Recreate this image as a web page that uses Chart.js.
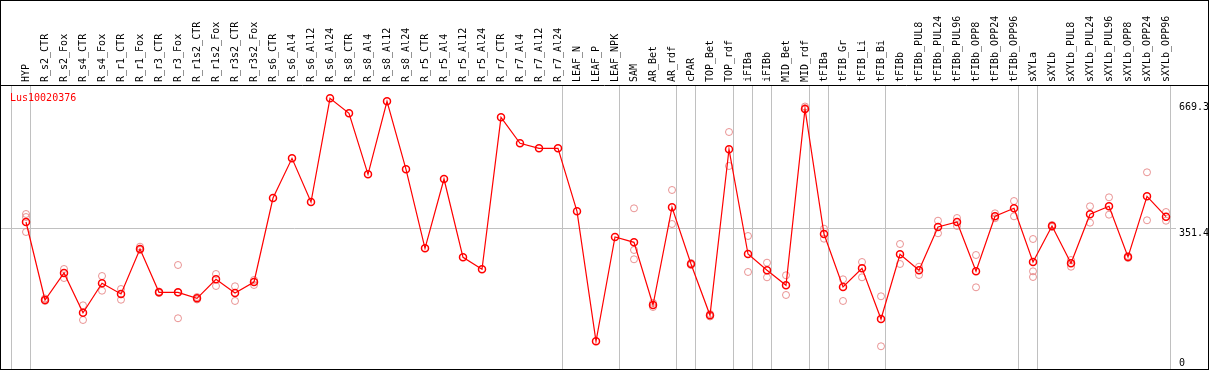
<!DOCTYPE html>
<html>
<head>
<meta charset="utf-8">
<script src="https://cdn.jsdelivr.net/npm/chart.js@4"></script>
<style>
  html, body { margin: 0; padding: 0; background: #fff; }
  #wrap { width: 1207px; height: 368px; border: 1px solid #000; }
</style>
</head>
<body>
<div id="wrap"><canvas id="chart" width="1207" height="368"></canvas></div>
<script>
/* expression profile – one gene across tissue samples */

const geneName = 'Lus10020376';

const categories = [
  'HYP','R_s2_CTR','R_s2_Fox','R_s4_CTR','R_s4_Fox','R_r1_CTR','R_r1_Fox','R_r3_CTR','R_r3_Fox',
  'R_r1s2_CTR','R_r1s2_Fox','R_r3s2_CTR','R_r3s2_Fox','R_s6_CTR','R_s6_Al4','R_s6_Al12','R_s6_Al24',
  'R_s8_CTR','R_s8_Al4','R_s8_Al12','R_s8_Al24','R_r5_CTR','R_r5_Al4','R_r5_Al12','R_r5_Al24',
  'R_r7_CTR','R_r7_Al4','R_r7_Al12','R_r7_Al24','LEAF_N','LEAF_P','LEAF_NPK','SAM','AR_Bet','AR_rdf',
  'cPAR','TOP_Bet','TOP_rdf','iFIBa','iFIBb','MID_Bet','MID_rdf','tFIBa','tFIB_Gr','tFIB_Li','tFIB_Bi',
  'tFIBb','tFIBb_PUL8','tFIBb_PUL24','tFIBb_PUL96','tFIBb_OPP8','tFIBb_OPP24','tFIBb_OPP96',
  'sXYLa','sXYLb','sXYLb_PUL8','sXYLb_PUL24','sXYLb_PUL96','sXYLb_OPP8','sXYLb_OPP24','sXYLb_OPP96'
];

const meanValues = [
  366.8, 168.8, 237.3, 136.5, 211.2, 184.0, 298.2, 188.3, 188.3,
  173.1, 221.3, 186.5, 214.5, 427.7, 528.4, 417.5, 680.7,
  642.6, 487.8, 673.1, 500.5, 300.0, 475.9, 277.2, 246.7,
  632.5, 566.5, 553.8, 553.8, 393.9, 64.0, 328.7, 315.2, 156.1, 404.1,
  260.2, 129.9, 551.3, 285.5, 244.2, 206.1, 653.6, 336.3, 201.8, 249.2, 120.6,
  284.8, 244.2, 354.1, 366.8, 241.6, 381.2, 401.5,
  265.2, 356.6, 261.9, 386.3, 406.6, 277.9, 432.0, 380.2
];

// individual replicates, one list per category
const replicateValues = [
  [387.1, 379.4, 341.4], [172.6, 166.3], [247.5, 224.6], [155.3, 118.0], [229.7, 192.4],
  [196.7, 169.5], [304.1, 295.7], [190.4, 186.6], [257.6, 122.4, 187.8],
  [176.4, 170.1], [234.8, 204.3], [203.6, 166.3], [219.6, 206.9],
  [], [], [], [], [], [], [], [], [], [], [], [], [], [], [], [],
  [], [], [],
  [401.5, 295.7, 272.1], [161.2, 151.0], [448.0, 361.7],
  [262.7, 257.6], [133.3, 126.9], [595.2, 508.9], [331.2, 239.9], [263.5, 226.4],
  [231.5, 181.5], [659.9, 656.1], [349.8, 324.4], [221.3, 166.3], [265.2, 226.4], [178.2, 51.3],
  [310.9, 260.2], [253.3, 232.3], [370.1, 338.1], [376.9, 356.6], [283.0, 201.0], [388.8, 376.2], [420.0, 381.2],
  [323.6, 241.6, 227.2], [359.2, 354.1], [270.3, 253.3], [406.6, 365.0], [429.4, 385.3],
  [280.5, 275.4], [492.9, 371.1], [392.1, 370.0]
];

// group separators sit just after these category indexes
const separatorAfter = [-1, 0, 28, 31, 34, 35, 37, 38, 39, 41, 42, 45, 52, 53, 60];

const yLabels = [0, 351.4, 669.3];
const yGridValues = [351.4];

const X_MIN = -1.316, X_MAX = 60.526;
const Y_MIN = -6.35, Y_MAX = 714.5;
const MONO = '"DejaVu Sans Mono", "Liberation Mono", monospace';

const repPoints = [];
replicateValues.forEach((list, i) => {
  list.forEach(v => repPoints.push({ x: i, y: v }));
});
const meanPoints = meanValues.map((v, i) => ({ x: i, y: v }));

function noSidePadding(s) {
  s.paddingLeft = 0;
  s.paddingRight = 0;
}

const frame = {
  id: 'frame',
  afterDraw(chart) {
    const { ctx, chartArea, scales } = chart;
    ctx.save();
    // line under the label band, full width
    ctx.strokeStyle = '#000';
    ctx.lineWidth = 1;
    ctx.beginPath();
    ctx.moveTo(0, chartArea.top + 0.5);
    ctx.lineTo(chart.width, chartArea.top + 0.5);
    ctx.stroke();

    // gene name
    ctx.font = '10px ' + MONO;
    ctx.fillStyle = '#ff0000';
    ctx.textBaseline = 'top';
    ctx.textAlign = 'left';
    ctx.fillText(geneName, 9, chartArea.top + 8);

    // right hand value labels
    ctx.fillStyle = '#000';
    yLabels.forEach(v => {
      let y = scales.y.getPixelForValue(v);
      y = Math.min(y, chartArea.bottom - 11);
      ctx.fillText(String(v), chartArea.right + 3, y);
    });
    ctx.restore();
  }
};

new Chart(document.getElementById('chart'), {
  type: 'line',
  data: {
    datasets: [
      {
        label: 'replicates',
        data: repPoints,
        showLine: false,
        pointRadius: 3.5,
        pointBorderWidth: 1,
        pointBorderColor: 'rgba(228,120,120,0.8)',
        pointBackgroundColor: 'rgba(0,0,0,0)',
        xAxisID: 'x', yAxisID: 'y', order: 2
      },
      {
        label: geneName,
        data: meanPoints,
        borderColor: '#ff0000',
        borderWidth: 1.2,
        tension: 0,
        pointRadius: 3.5,
        pointBorderWidth: 1.5,
        pointBorderColor: '#ff0000',
        pointBackgroundColor: 'rgba(0,0,0,0)',
        xAxisID: 'x', yAxisID: 'y', order: 1
      }
    ]
  },
  options: {
    responsive: false,
    devicePixelRatio: 1,
    animation: false,
    layout: { padding: 0, autoPadding: false },
    plugins: { legend: { display: false }, tooltip: { enabled: false } },
    scales: {
      x: {
        type: 'linear', position: 'top', min: X_MIN, max: X_MAX,
        afterBuildTicks: s => { s.ticks = categories.map((c, i) => ({ value: i })); },
        afterFit: s => { s.height = 84; noSidePadding(s); },
        grid: { display: false, drawTicks: false },
        border: { display: false },
        ticks: {
          autoSkip: false, minRotation: 90, maxRotation: 90, padding: 3, labelOffset: 12,
          color: '#000', font: { family: MONO, size: 10 },
          callback: v => categories[v]
        }
      },
      x2: {
        type: 'linear', position: 'bottom', min: X_MIN, max: X_MAX,
        afterBuildTicks: s => { s.ticks = separatorAfter.map(i => ({ value: i + 0.23 })); },
        afterFit: s => { s.height = 0; noSidePadding(s); },
        grid: { color: '#c0c0c0', lineWidth: 1, drawTicks: false },
        border: { display: false },
        ticks: { display: false }
      },
      y: {
        type: 'linear', position: 'right', min: Y_MIN, max: Y_MAX,
        afterBuildTicks: s => { s.ticks = yGridValues.map(v => ({ value: v })); },
        afterFit: s => { s.width = 32; },
        grid: { color: '#c0c0c0', lineWidth: 1, drawTicks: false },
        border: { display: false },
        ticks: { display: false }
      }
    }
  },
  plugins: [frame]
});
</script>
</body>
</html>
